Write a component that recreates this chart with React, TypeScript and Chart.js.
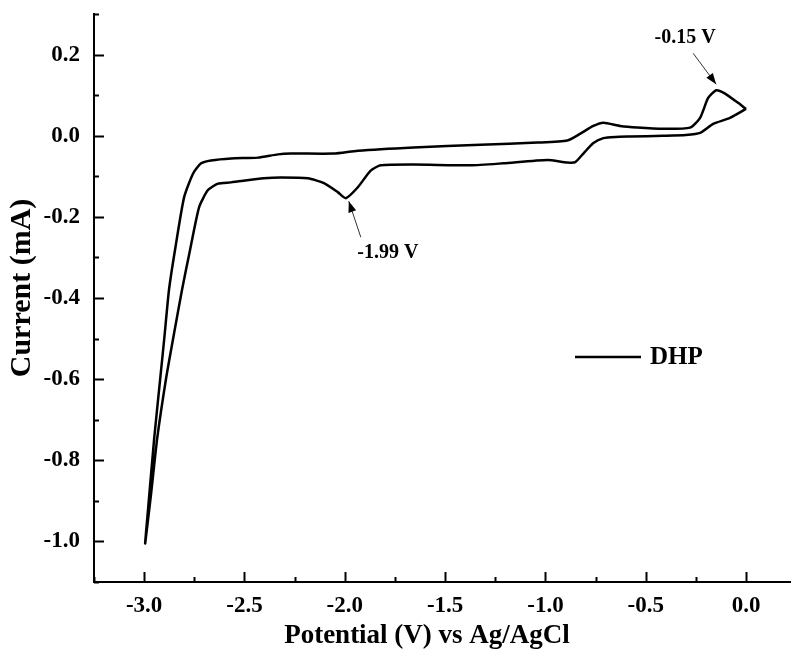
import React, { useEffect, useRef } from "react";
import { Chart, registerables } from "chart.js";

Chart.register(...registerables);

// Cathodic sweep: 0.0 V -> -3.0 V (lower branch)
const cathodicPotential = [
  0.0, -0.08, -0.164, -0.229, -0.3, -0.413, -0.577, -0.65, -0.711, -0.761, -0.811, -0.851,
  -0.891, -0.99, -1.209, -1.373, -1.657, -1.821, -1.871, -1.935, -1.995, -2.035, -2.104,
  -2.184, -2.318, -2.403, -2.567, -2.632, -2.682, -2.726, -2.771, -2.811, -2.856, -2.891,
  -2.935, -2.965, -2.995,
];
const cathodicCurrent = [
  0.066, 0.044, 0.029, 0.007, 0.002, 0.0, -0.002, -0.003, -0.006, -0.018, -0.044, -0.065,
  -0.066, -0.06, -0.068, -0.073, -0.071, -0.073, -0.086, -0.127, -0.154, -0.139, -0.117,
  -0.105, -0.103, -0.105, -0.115, -0.118, -0.134, -0.176, -0.281, -0.379, -0.501, -0.599,
  -0.746, -0.88, -1.005,
];

// Anodic sweep: -3.0 V -> 0.0 V (upper branch)
const anodicPotential = [
  -2.98, -2.95, -2.92, -2.9, -2.876, -2.846, -2.801, -2.756, -2.716, -2.667, -2.567, -2.433,
  -2.333, -2.269, -2.055, -1.935, -1.657, -1.323, -1.04, -0.891, -0.826, -0.761, -0.711,
  -0.627, -0.542, -0.413, -0.279, -0.229, -0.189, -0.149, -0.109, -0.04, 0.0,
];
const anodicCurrent = [
  -0.917, -0.746, -0.599, -0.501, -0.379, -0.281, -0.152, -0.093, -0.068, -0.061, -0.056,
  -0.054, -0.046, -0.044, -0.044, -0.037, -0.029, -0.022, -0.017, -0.012, 0.005, 0.024,
  0.032, 0.024, 0.02, 0.017, 0.02, 0.044, 0.093, 0.112, 0.105, 0.081, 0.066,
];

const xTickValues = [-3.0, -2.5, -2.0, -1.5, -1.0, -0.5, 0.0];
const yTickValues = [-1.0, -0.8, -0.6, -0.4, -0.2, 0.0, 0.2];
const seriesLabel = "DHP";
const xTitle = "Potential (V) vs Ag/AgCl";
const yTitle = "Current (mA)";
const peakLabels = ["-0.15 V", "-1.99 V"];
const peakPotentials = [-0.149, -1.995];
const peakCurrents = [0.112, -0.154];

const FONT = "'Liberation Serif', 'Times New Roman', serif";

const extrasPlugin = {
  id: "extras",
  afterDraw(chart: any) {
    const { ctx, scales, chartArea } = chart;
    const xs = scales.x;
    const ys = scales.y;
    ctx.save();
    ctx.strokeStyle = "#000";
    ctx.lineWidth = 2;
    // inward x ticks
    for (let k = -13; k <= 1; k++) {
      const v = k * 0.25;
      if (v < xs.min - 1e-9 || v > xs.max + 1e-9) continue;
      const px = Math.round(xs.getPixelForValue(v)) + 0.5;
      const major = k % 2 === 0;
      const len = major ? 10 : 5;
      ctx.beginPath();
      ctx.moveTo(px, chartArea.bottom);
      ctx.lineTo(px, chartArea.bottom - len);
      ctx.stroke();
    }
    // inward y ticks
    for (let k = -11; k <= 3; k++) {
      const v = k * 0.1;
      if (v < ys.min - 1e-9 || v > ys.max + 1e-9) continue;
      const py = Math.round(ys.getPixelForValue(v)) + 0.5;
      const major = Math.abs(k) % 2 === 0;
      const len = major ? 10 : 5;
      ctx.beginPath();
      ctx.moveTo(chartArea.left, py);
      ctx.lineTo(chartArea.left + len, py);
      ctx.stroke();
    }

    // axis titles
    ctx.fillStyle = "#000";
    ctx.textAlign = "center";
    ctx.textBaseline = "middle";
    ctx.font = `bold 27px ${FONT}`;
    ctx.fillText(xTitle, chartArea.left + 333, chartArea.bottom + 54);
    ctx.save();
    ctx.translate(22, chartArea.top + 274);
    ctx.rotate(-Math.PI / 2);
    ctx.font = `bold 30px ${FONT}`;
    ctx.fillText(yTitle, 0, 0);
    ctx.restore();

    // peak annotations
    const offsets = [
      { tail: [-23, -37], tip: [0, -6], text: [-31, -52] },
      { tail: [15, 39], tip: [3, 3], text: [42, 55] },
    ];
    ctx.font = `bold 20px ${FONT}`;
    ctx.textAlign = "center";
    ctx.textBaseline = "middle";
    peakLabels.forEach((label, i) => {
      const px = xs.getPixelForValue(peakPotentials[i]);
      const py = ys.getPixelForValue(peakCurrents[i]);
      const o = offsets[i];
      const tx = px + o.tail[0], ty = py + o.tail[1];
      const hx = px + o.tip[0], hy = py + o.tip[1];
      ctx.strokeStyle = "#333";
      ctx.lineWidth = 1;
      ctx.beginPath();
      ctx.moveTo(tx, ty);
      ctx.lineTo(hx, hy);
      ctx.stroke();
      const ang = Math.atan2(hy - ty, hx - tx);
      const L = 11, W = 4;
      ctx.beginPath();
      ctx.moveTo(hx, hy);
      ctx.lineTo(hx - L * Math.cos(ang) + W * Math.sin(ang), hy - L * Math.sin(ang) - W * Math.cos(ang));
      ctx.lineTo(hx - L * Math.cos(ang) - W * Math.sin(ang), hy - L * Math.sin(ang) + W * Math.cos(ang));
      ctx.closePath();
      ctx.fillStyle = "#000";
      ctx.fill();
      ctx.fillText(label, px + o.text[0], py + o.text[1]);
    });

    // legend
    const lx = chartArea.left + 481;
    const ly = chartArea.top + 343;
    ctx.strokeStyle = "#000";
    ctx.lineWidth = 2.5;
    ctx.beginPath();
    ctx.moveTo(lx, ly);
    ctx.lineTo(lx + 66, ly);
    ctx.stroke();
    ctx.font = `bold 25px ${FONT}`;
    ctx.textAlign = "left";
    ctx.textBaseline = "middle";
    ctx.fillText(chart.data.datasets[0].label, lx + 75, ly + 1);
    ctx.restore();
  },
};

export default function App() {
  const canvasRef = useRef<HTMLCanvasElement | null>(null);

  useEffect(() => {
    if (!canvasRef.current) return;
    const points = [
      ...cathodicPotential.map((v, i) => ({ x: v, y: cathodicCurrent[i] })),
      ...anodicPotential.map((v, i) => ({ x: v, y: anodicCurrent[i] })),
    ];
    const chart = new Chart(canvasRef.current, {
      type: "scatter",
      data: {
        datasets: [
          {
            label: seriesLabel,
            data: points,
            showLine: true,
            borderColor: "#000",
            backgroundColor: "#000",
            borderWidth: 2.5,
            pointRadius: 0,
            tension: 0.2,
          },
        ],
      },
      options: {
        responsive: false,
        animation: false,
        layout: { padding: { top: 14, right: 0, left: 0, bottom: 0 } },
        plugins: { legend: { display: false }, tooltip: { enabled: false } },
        scales: {
          x: {
            type: "linear",
            min: -3.25,
            max: 0.224,
            afterBuildTicks: (s: any) => {
              s.ticks = xTickValues.map((v) => ({ value: v }));
            },
            afterFit: (s: any) => {
              s.height = 83;
              s.paddingLeft = 0;
              s.paddingRight = 0;
            },
            grid: { display: false, drawTicks: false },
            border: { display: true, color: "#000", width: 2 },
            ticks: {
              color: "#000",
              padding: 10,
              font: { family: FONT, weight: "bold", size: 23 },
              callback: (v: any) => Number(v).toFixed(1),
            },
            title: { display: false },
          },
          y: {
            type: "linear",
            min: -1.1,
            max: 0.3,
            afterBuildTicks: (s: any) => {
              s.ticks = yTickValues.map((v) => ({ value: v }));
            },
            afterFit: (s: any) => {
              s.width = 94;
              s.paddingTop = 0;
              s.paddingBottom = 0;
            },
            grid: { display: false, drawTicks: false },
            border: { display: true, color: "#000", width: 2 },
            ticks: {
              color: "#000",
              padding: 14,
              font: { family: FONT, weight: "bold", size: 23 },
              callback: (v: any) => Number(v).toFixed(1),
            },
            title: { display: false },
          },
        },
      },
      plugins: [extrasPlugin],
    });
    return () => chart.destroy();
  }, []);

  return (
    <div style={{ position: "fixed", left: 0, top: 0, width: 791, height: 665, background: "#fff" }}>
      <canvas ref={canvasRef} width={791} height={665} />
    </div>
  );
}
